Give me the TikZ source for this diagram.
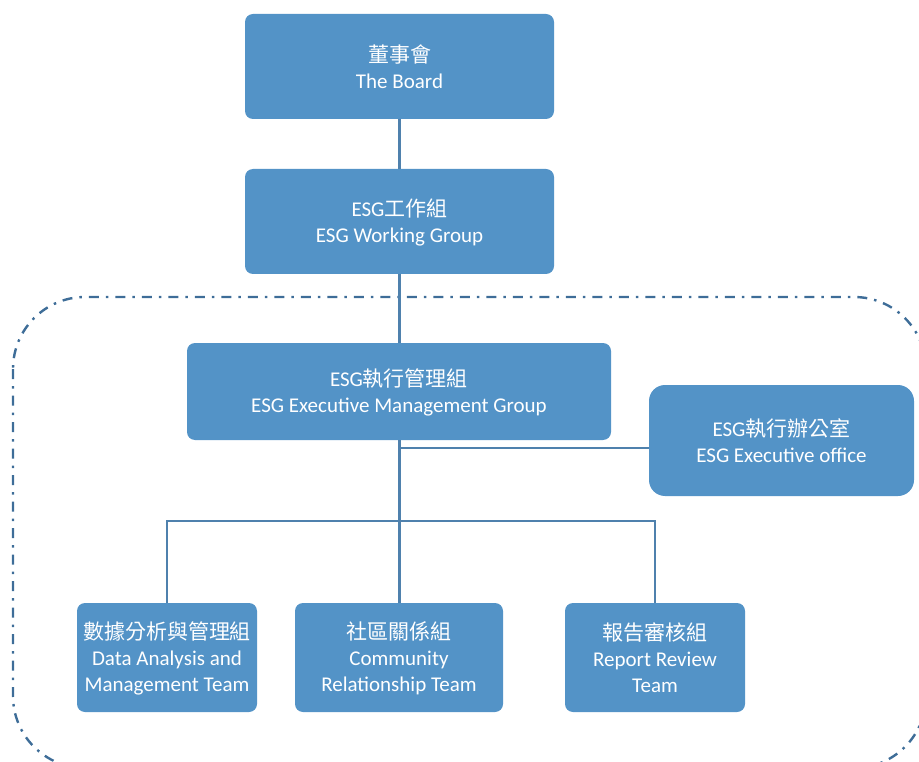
\documentclass[tikz,border=0pt]{standalone}
\usepackage{fontspec}
\setmainfont{Carlito}
\newfontfamily\cjk{Noto Sans CJK TC}
\definecolor{boxblue}{HTML}{5393C7}
\definecolor{linblue}{HTML}{4F81AD}
\definecolor{dashblue}{HTML}{3E6D98}
\begin{document}
\begin{tikzpicture}[x=1pt,y=-1pt,
  orgbox/.style={fill=boxblue, draw=none, rounded corners=8pt, text=white, align=center, font=\fontsize{21}{26}\selectfont, inner sep=0pt},
  conn/.style={draw=linblue, line width=2.2pt}]
\useasboundingbox (0,0) rectangle (919,762);
\begin{scope}
\clip (0,0) rectangle (919,762);
\draw[dashblue, line width=2.4pt, rounded corners=72pt, dash pattern=on 10pt off 7pt on 2.5pt off 7pt] (13,297) rectangle (926,768);
\end{scope}
% boxes
\path[orgbox] (245,14) rectangle (554,119);
\node[orgbox] (board) at (399.5,67) {{\cjk 董事會}\\The Board};
\path[orgbox] (245,169) rectangle (554,274);
\node[orgbox] (wg) at (399.5,222) {ESG{\cjk 工作組}\\ESG Working Group};
\path[orgbox] (187,343) rectangle (611,440);
\node[orgbox] (emg) at (399,392) {ESG{\cjk 執行管理組}\\ESG Executive Management Group};
\path[orgbox, rounded corners=16pt] (649,385) rectangle (914,496);
\node[orgbox] (office) at (781.5,441) {ESG{\cjk 執行辦公室}\\ESG Executive office};
\path[orgbox] (77,603) rectangle (257,712);
\node[orgbox] (data) at (167,658) {{\cjk 數據分析與管理組}\\Data Analysis and\\Management Team};
\path[orgbox] (295,603) rectangle (503,712);
\node[orgbox] (comm) at (399,658) {{\cjk 社區關係組}\\Community\\Relationship Team};
\path[orgbox] (565,603) rectangle (745,712);
\node[orgbox] (rep) at (655,658) {{\cjk 報告審核組}\\Report Review\\Team};
% anchors for connectors
\coordinate (bb) at (399.5,119);
\coordinate (wgt) at (399.5,169);
\coordinate (wgb) at (399.5,274);
\coordinate (emgt) at (399.5,343);
\coordinate (emgb) at (399.5,440);
\coordinate (commt) at (399.5,603);
\coordinate (offj) at (399.5,448);
\coordinate (offl) at (649,448);
\coordinate (busl) at (167,521);
\coordinate (busr) at (655,521);
\coordinate (datat) at (167,603);
\coordinate (rept) at (655,603);
\draw[conn] (bb) -- (wgt);
\draw[conn] (wgb) -- (emgt);
\draw[conn] (emgb) -- (commt);
\draw[conn] (offj) -- (offl);
\draw[conn] (datat) -- (busl) -- (busr) -- (rept);
\end{tikzpicture}
\end{document}
